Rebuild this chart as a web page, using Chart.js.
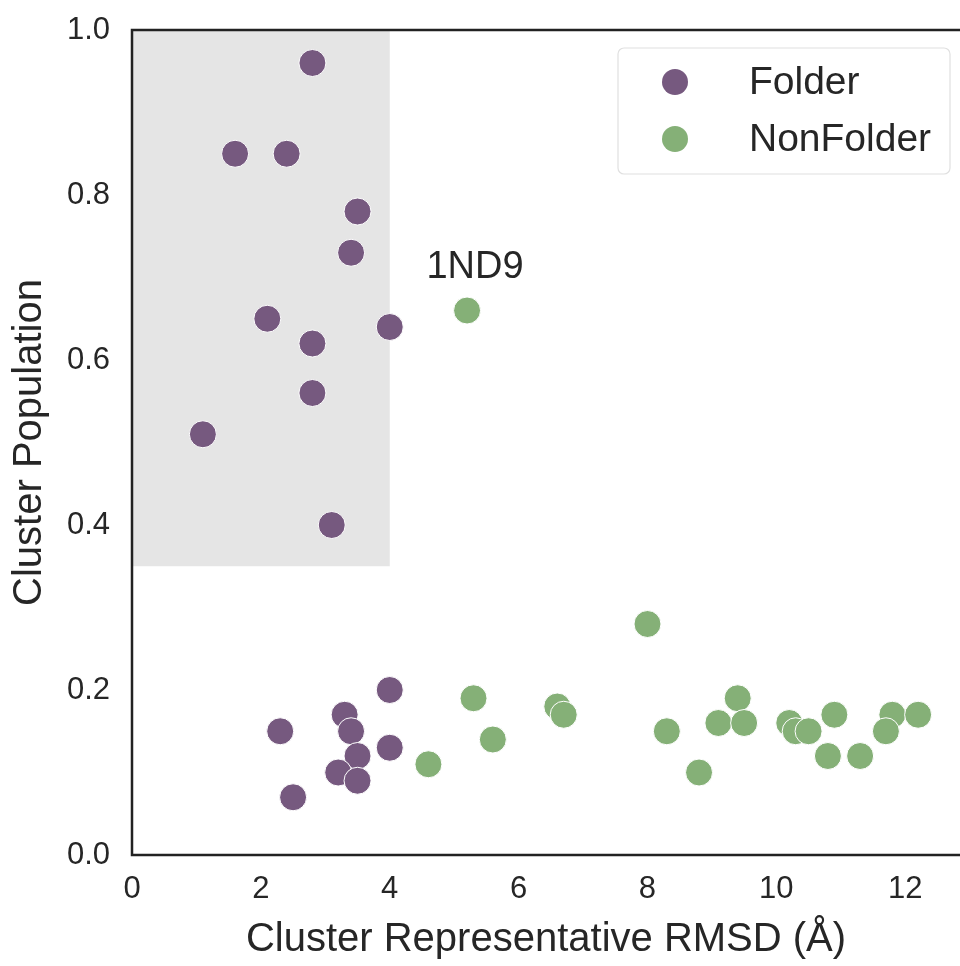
<!DOCTYPE html>
<html>
<head>
<meta charset="utf-8">
<script src="https://cdn.jsdelivr.net/npm/chart.js@4"></script>
<style>
  body { margin: 0; background: #fff; }
  #wrap { width: 960px; height: 966px; position: relative; }
</style>
</head>
<body>
<div id="wrap"><canvas id="myScatter"></canvas></div>
<script>
// Folder points (RMSD, population)
const folderX = [2.8, 1.6, 2.4, 3.5, 3.4, 2.1, 4.0, 2.8, 2.8, 1.1, 3.1,
                 4.0, 2.3, 3.3, 3.4, 3.5, 4.0, 3.2, 3.5, 2.5];
const folderY = [0.96, 0.85, 0.85, 0.78, 0.73, 0.65, 0.64, 0.62, 0.56, 0.51, 0.40,
                 0.20, 0.15, 0.17, 0.15, 0.12, 0.13, 0.10, 0.09, 0.07];

// NonFolder points
const nonFolderX = [5.2, 5.3, 5.6, 4.6, 8.0, 6.6, 6.7, 8.3, 8.8, 9.4, 9.1, 9.5,
                    10.2, 10.3, 10.5, 10.9, 10.8, 11.3, 11.8, 11.7, 12.2];
const nonFolderY = [0.66, 0.19, 0.14, 0.11, 0.28, 0.18, 0.17, 0.15, 0.10, 0.19, 0.16, 0.16,
                    0.16, 0.15, 0.15, 0.17, 0.12, 0.12, 0.17, 0.15, 0.17];

const seriesNames = ['Folder', 'NonFolder'];
const xTicks = [0, 2, 4, 6, 8, 10, 12];
const yTicks = [0.0, 0.2, 0.4, 0.6, 0.8, 1.0];
// shaded "folded" region: x 0..4, y 0.35..1.0
const shadeX = [0, 4];
const shadeY = [0.35, 1.0];
const annotations = [{ text: '1ND9', x: 5.2, y: 0.66 }];

const purple = '#76597f';
const green = '#85b077';
const ink = '#262626';
const fontFam = '"Liberation Sans", Arial, sans-serif';

function toPoints(xs, ys) {
  return xs.map((x, i) => ({ x: x, y: ys[i] }));
}

// grey box, frame, label and legend
const extras = {
  id: 'extras',
  beforeDatasetsDraw(chart) {
    const { ctx, scales: { x, y } } = chart;
    ctx.save();
    ctx.fillStyle = '#e5e5e5';
    const l = x.getPixelForValue(shadeX[0]), r = x.getPixelForValue(shadeX[1]);
    const t = y.getPixelForValue(shadeY[1]), b = y.getPixelForValue(shadeY[0]);
    ctx.fillRect(l, t, r - l, b - t);
    ctx.restore();
  },
  afterDatasetsDraw(chart) {
    const { ctx, chartArea: a, scales: { x, y } } = chart;
    ctx.save();
    // frame: left, top, bottom (right side is cut off)
    ctx.strokeStyle = '#222';
    ctx.lineWidth = 2.5;
    ctx.beginPath();
    ctx.moveTo(a.right + 2, a.top);
    ctx.lineTo(a.left, a.top);
    ctx.lineTo(a.left, a.bottom);
    ctx.lineTo(a.right + 2, a.bottom);
    ctx.stroke();

    // annotation text
    ctx.fillStyle = ink;
    ctx.font = '38px ' + fontFam;
    ctx.textAlign = 'center';
    ctx.textBaseline = 'alphabetic';
    annotations.forEach(an => {
      ctx.fillText(an.text, x.getPixelForValue(an.x) + 8, y.getPixelForValue(an.y) - 33);
    });

    // legend box
    const bw = 332, bh = 126;
    const bx = a.right - 10 - bw, by = a.top + 18;
    ctx.beginPath();
    ctx.roundRect(bx, by, bw, bh, 6);
    ctx.fillStyle = 'rgba(255,255,255,0.85)';
    ctx.fill();
    ctx.strokeStyle = '#e0e0e0';
    ctx.lineWidth = 1.2;
    ctx.stroke();
    ctx.textAlign = 'left';
    ctx.textBaseline = 'middle';
    ctx.font = '39px ' + fontFam;
    chart.data.datasets.forEach((ds, i) => {
      const cy = by + 34 + i * 57;
      ctx.beginPath();
      ctx.arc(bx + 57, cy, 13, 0, Math.PI * 2);
      ctx.fillStyle = ds.backgroundColor;
      ctx.fill();
      ctx.fillStyle = ink;
      ctx.fillText(ds.label, bx + 131, cy + 1);
    });
    ctx.restore();
  }
};

const ctx = document.getElementById('myScatter').getContext('2d');
const myScatter = new Chart(ctx, {
  type: 'scatter',
  data: {
    datasets: [
      {
        label: seriesNames[0],
        data: toPoints(folderX, folderY),
        backgroundColor: purple,
        borderColor: '#ffffff',
        borderWidth: 1,
        pointRadius: 13.5,
        pointHoverRadius: 13.5
      },
      {
        label: seriesNames[1],
        data: toPoints(nonFolderX, nonFolderY),
        backgroundColor: green,
        borderColor: '#ffffff',
        borderWidth: 1,
        pointRadius: 13.5,
        pointHoverRadius: 13.5
      }
    ]
  },
  options: {
    responsive: true,
    maintainAspectRatio: false,
    animation: false,
    layout: { autoPadding: false, padding: { top: 30, right: 0, left: 0, bottom: 0 } },
    plugins: {
      legend: { display: false },
      tooltip: { enabled: false }
    },
    scales: {
      x: {
        type: 'linear',
        min: 0,
        max: 12.85,
        grid: { display: false, drawTicks: false },
        border: { display: false },
        afterFit: s => { s.height = 111; s.paddingLeft = 0; s.paddingRight = 0; },
        afterBuildTicks: s => { s.ticks = xTicks.map(v => ({ value: v })); },
        ticks: {
          includeBounds: false,
          padding: 16,
          color: ink,
          font: { family: fontFam, size: 31 },
          maxRotation: 0
        },
        title: {
          display: true,
          text: 'Cluster Representative RMSD (Å)',
          color: ink,
          font: { family: fontFam, size: 40 },
          padding: { top: 0, bottom: 2 }
        }
      },
      y: {
        type: 'linear',
        min: 0,
        max: 1,
        grid: { display: false, drawTicks: false },
        border: { display: false },
        afterFit: s => { s.width = 132; s.paddingTop = 0; s.paddingBottom = 0; },
        afterBuildTicks: s => { s.ticks = yTicks.map(v => ({ value: v })); },
        ticks: {
          padding: 22,
          color: ink,
          font: { family: fontFam, size: 31 },
          callback: v => Number(v).toFixed(1)
        },
        title: {
          display: true,
          text: 'Cluster Population',
          color: ink,
          font: { family: fontFam, size: 40 },
          padding: { top: 6, bottom: 0 }
        }
      }
    }
  },
  plugins: [extras]
});
</script>
</body>
</html>
